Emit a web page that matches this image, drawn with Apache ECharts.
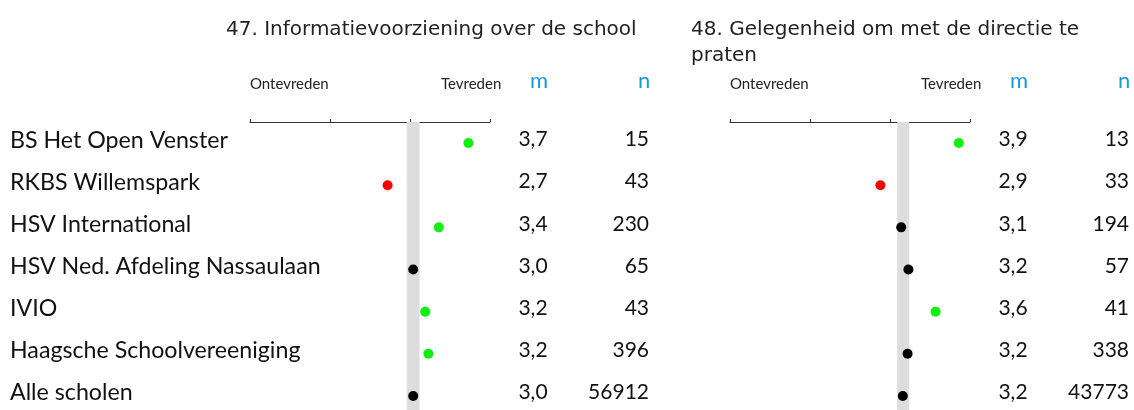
<!DOCTYPE html>
<html>
<head>
<meta charset="utf-8">
<script src="https://cdn.jsdelivr.net/npm/echarts@6/dist/echarts.min.js"></script>
<style>
html,body{margin:0;padding:0;background:#fff;}
#chart{width:1134px;height:410px;}
</style>
</head>
<body>
<div id="chart"></div>
<script>
// ---- data ----
const schools = ['BS Het Open Venster', 'RKBS Willemspark', 'HSV International', 'HSV Ned. Afdeling Nassaulaan', 'IVIO', 'Haagsche Schoolvereeniging', 'Alle scholen'];
const title47 = '47. Informatievoorziening over de school';
const title48 = '48. Gelegenheid om met de directie te\npraten';
const scaleLow = 'Ontevreden';
const scaleHigh = 'Tevreden';
const mean47 = [3.73, 2.72, 3.36, 3.04, 3.19, 3.23, 3.04];
const n47 = [15, 43, 230, 65, 43, 396, 56912];
const sig47 = [1, -1, 1, 0, 1, 1, 0];
const band47 = [2.96, 3.12];
const mean48 = [3.86, 2.88, 3.14, 3.23, 3.57, 3.22, 3.16];
const n48 = [13, 33, 194, 57, 41, 338, 43773];
const sig48 = [1, -1, 0, 0, 1, 0, 0];
const band48 = [3.09, 3.24];

// ---- chart ----
const LABEL_FONT = 'Lato';
const fmt = v => v.toFixed(1).replace('.', ',');
const sigColor = s => s > 0 ? '#10f010' : (s < 0 ? '#ff0000' : '#000000');

const grids = [
  {left: 250, top: 122, width: 240, height: 295, containLabel: false, outerBoundsMode: 'none'},
  {left: 730, top: 122, width: 240, height: 295, containLabel: false, outerBoundsMode: 'none'}
];

function xAxisFor(i) {
  return {
    type: 'value', gridIndex: i, min: 1, max: 4, interval: 1, position: 'top',
    axisLine: {show: true, lineStyle: {color: '#333', width: 1}},
    axisTick: {show: true, length: 3, lineStyle: {color: '#333'}},
    axisLabel: {show: false}, splitLine: {show: false}
  };
}

function yAxesFor(i, means, ns, showNames) {
  const common = {type: 'category', gridIndex: i, inverse: true,
    axisLine: {show: false}, axisTick: {show: false}, splitLine: {show: false}};
  return [
    Object.assign({}, common, {
      data: schools, position: 'left',
      axisLabel: {show: showNames, align: 'left', margin: 240, fontFamily: LABEL_FONT, fontSize: 23.2,
        color: '#111', verticalAlign: 'bottom', lineHeight: 6}
    }),
    Object.assign({}, common, {
      data: means.map(fmt), position: 'right',
      axisLabel: {align: 'center', margin: 43, fontFamily: LABEL_FONT, fontSize: 21, color: '#111',
        verticalAlign: 'bottom', lineHeight: 7}
    }),
    Object.assign({}, common, {
      data: ns.map(String), position: 'right',
      axisLabel: {align: 'right', margin: 159, fontFamily: LABEL_FONT, fontSize: 21, color: '#111',
        verticalAlign: 'bottom', lineHeight: 7}
    })
  ];
}

function seriesFor(i, means, sig, band) {
  return {
    type: 'scatter', xAxisIndex: i, yAxisIndex: i * 3, symbolSize: 10,
    data: means.map((v, k) => ({value: [v, k], itemStyle: {color: sigColor(sig[k]), opacity: 1}})),
    markArea: {silent: true, itemStyle: {color: '#dddddd', opacity: 1},
      data: [[{xAxis: band[0]}, {xAxis: band[1]}]]}
  };
}

const headerStyle = {fontFamily: LABEL_FONT, fontSize: 15, fontWeight: 'normal', color: '#222'};
const mnStyle = {fontFamily: LABEL_FONT, fontSize: 22, fontWeight: 'normal', color: '#1a9ad9'};
const titleStyle = {fontFamily: 'DejaVu Sans', fontSize: 20, fontWeight: 'normal', color: '#222', lineHeight: 26};

const option = {
  backgroundColor: '#fff',
  animation: false,
  title: [
    {text: title47, left: 226, top: 17, padding: 0, textStyle: titleStyle},
    {text: title48, left: 691, top: 17, padding: 0, textStyle: titleStyle},
    {text: scaleLow, left: 250, top: 77, padding: 0, textStyle: headerStyle},
    {text: scaleHigh, left: 441, top: 77, padding: 0, textStyle: headerStyle},
    {text: 'm', left: 530, top: 70, padding: 0, textStyle: mnStyle},
    {text: 'n', left: 638, top: 70, padding: 0, textStyle: mnStyle},
    {text: scaleLow, left: 730, top: 77, padding: 0, textStyle: headerStyle},
    {text: scaleHigh, left: 921, top: 77, padding: 0, textStyle: headerStyle},
    {text: 'm', left: 1010, top: 70, padding: 0, textStyle: mnStyle},
    {text: 'n', left: 1118, top: 70, padding: 0, textStyle: mnStyle}
  ],
  grid: grids,
  xAxis: [xAxisFor(0), xAxisFor(1)],
  yAxis: yAxesFor(0, mean47, n47, true).concat(yAxesFor(1, mean48, n48, false)),
  series: [seriesFor(0, mean47, sig47, band47), seriesFor(1, mean48, sig48, band48)]
};

const chart = echarts.init(document.getElementById('chart'), null, {renderer: 'canvas'});
chart.setOption(option);
</script>
</body>
</html>
